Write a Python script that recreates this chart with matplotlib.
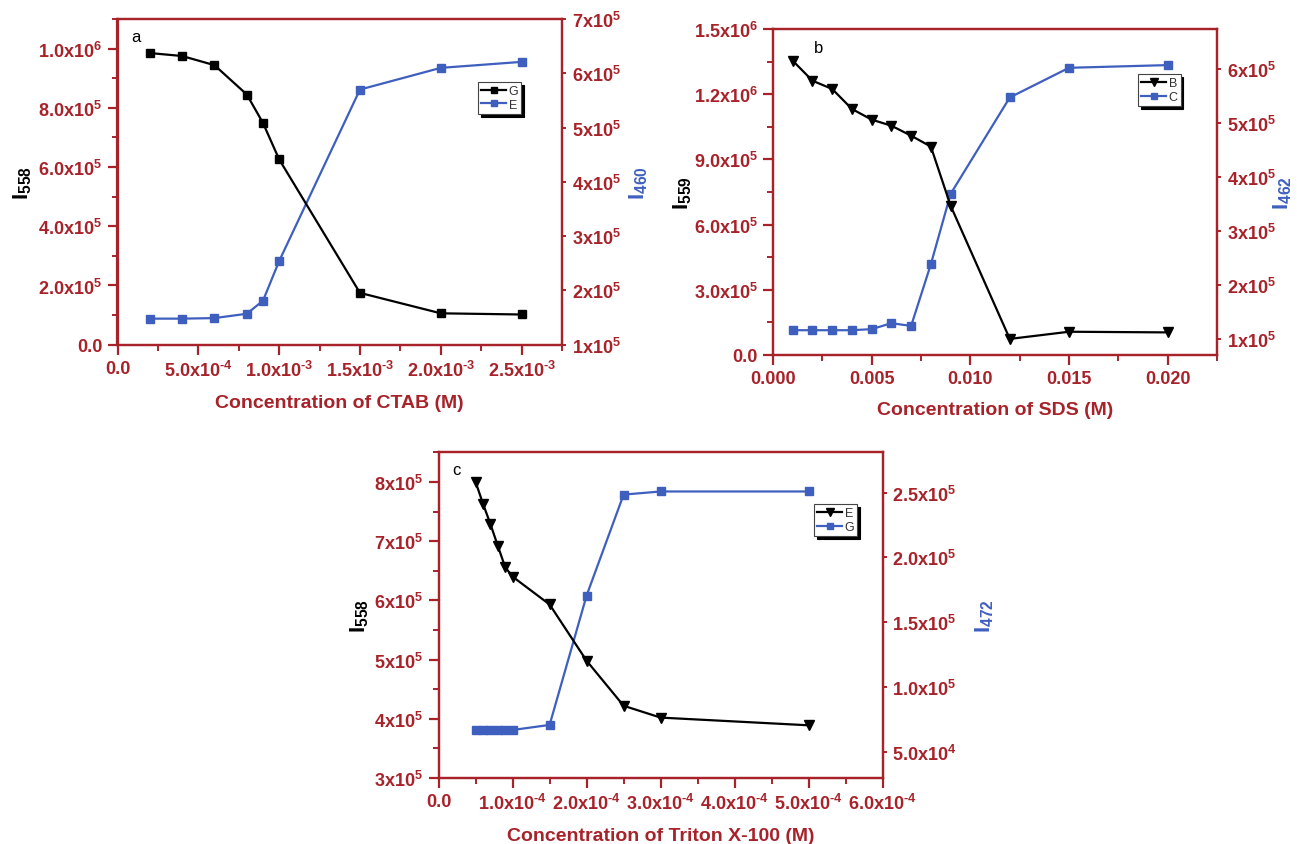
import matplotlib
matplotlib.use("Agg")
import matplotlib.pyplot as plt

plt.rcParams['font.family'] = ['Liberation Sans', 'DejaVu Sans']
plt.rcParams['mathtext.fontset'] = 'custom'
plt.rcParams['mathtext.rm'] = 'Liberation Sans:bold'
plt.rcParams['mathtext.bf'] = 'Liberation Sans:bold'
plt.rcParams['mathtext.default'] = 'bf'

# ---------------- data ----------------
# panel a (CTAB)
a_x = [2e-4, 4e-4, 6e-4, 8e-4, 9e-4, 1.0e-3, 1.5e-3, 2.0e-3, 2.5e-3]
a_G = [0.985e6, 0.975e6, 0.944e6, 0.845e6, 0.749e6, 0.626e6, 0.175e6, 0.106e6, 0.102e6]
a_E = [1.48e5, 1.48e5, 1.49e5, 1.57e5, 1.81e5, 2.54e5, 5.70e5, 6.10e5, 6.21e5]

# panel b (SDS)
b_x = [0.001, 0.002, 0.003, 0.004, 0.005, 0.006, 0.007, 0.008, 0.009, 0.012, 0.015, 0.020]
b_B = [1.354e6, 1.262e6, 1.224e6, 1.132e6, 1.083e6, 1.055e6, 1.009e6, 0.959e6, 0.687e6, 0.074e6, 0.107e6, 0.104e6]
b_C = [1.16e5, 1.16e5, 1.16e5, 1.16e5, 1.18e5, 1.29e5, 1.24e5, 2.385e5, 3.69e5, 5.48e5, 6.03e5, 6.08e5]

# panel c (Triton X-100)
c_x = [0.5e-4, 0.6e-4, 0.7e-4, 0.8e-4, 0.9e-4, 1.0e-4, 1.5e-4, 2.0e-4, 2.5e-4, 3.0e-4, 5.0e-4]
c_E = [8.00e5, 7.63e5, 7.29e5, 6.92e5, 6.56e5, 6.40e5, 5.93e5, 4.98e5, 4.22e5, 4.02e5, 3.89e5]
c_G = [6.7e4, 6.7e4, 6.7e4, 6.7e4, 6.7e4, 6.7e4, 7.09e4, 1.706e5, 2.484e5, 2.508e5, 2.508e5]

# tick labels
a_xt = [0, 5e-4, 1e-3, 1.5e-3, 2e-3, 2.5e-3]
a_xtl = ["0.0", r"5.0x10$^{\text{-}4}$", r"1.0x10$^{\text{-}3}$", r"1.5x10$^{\text{-}3}$",
         r"2.0x10$^{\text{-}3}$", r"2.5x10$^{\text{-}3}$"]
a_yt = [0, 2e5, 4e5, 6e5, 8e5, 1e6]
a_ytl = ["0.0", "2.0x10$^{5}$", "4.0x10$^{5}$", "6.0x10$^{5}$", "8.0x10$^{5}$", "1.0x10$^{6}$"]
a_rt = [1e5, 2e5, 3e5, 4e5, 5e5, 6e5, 7e5]
a_rtl = ["1x10$^{5}$", "2x10$^{5}$", "3x10$^{5}$", "4x10$^{5}$", "5x10$^{5}$", "6x10$^{5}$", "7x10$^{5}$"]

b_xt = [0, 0.005, 0.010, 0.015, 0.020]
b_xtl = ["0.000", "0.005", "0.010", "0.015", "0.020"]
b_yt = [0, 3e5, 6e5, 9e5, 1.2e6, 1.5e6]
b_ytl = ["0.0", "3.0x10$^{5}$", "6.0x10$^{5}$", "9.0x10$^{5}$", "1.2x10$^{6}$", "1.5x10$^{6}$"]
b_rt = [1e5, 2e5, 3e5, 4e5, 5e5, 6e5]
b_rtl = ["1x10$^{5}$", "2x10$^{5}$", "3x10$^{5}$", "4x10$^{5}$", "5x10$^{5}$", "6x10$^{5}$"]

c_xt = [0, 1e-4, 2e-4, 3e-4, 4e-4, 5e-4, 6e-4]
c_xtl = ["0.0", r"1.0x10$^{\text{-}4}$", r"2.0x10$^{\text{-}4}$", r"3.0x10$^{\text{-}4}$",
         r"4.0x10$^{\text{-}4}$", r"5.0x10$^{\text{-}4}$", r"6.0x10$^{\text{-}4}$"]
c_yt = [3e5, 4e5, 5e5, 6e5, 7e5, 8e5]
c_ytl = ["3x10$^{5}$", "4x10$^{5}$", "5x10$^{5}$", "6x10$^{5}$", "7x10$^{5}$", "8x10$^{5}$"]
c_rt = [5e4, 1e5, 1.5e5, 2e5, 2.5e5]
c_rtl = ["5.0x10$^{4}$", "1.0x10$^{5}$", "1.5x10$^{5}$", "2.0x10$^{5}$", "2.5x10$^{5}$"]

RED = '#A8222A'
BLUE = '#3F5FBF'
TFS = 13

W, H = 1297, 845
fig = plt.figure(figsize=(W / 100, H / 100), dpi=100)


def box(x0, y0, x1, y1):
    return [x0 / W, 1 - y1 / H, (x1 - x0) / W, (y1 - y0) / H]


def panel(rect, x, y1, y2, m1, lab1, lab2, xlim, ylim1, ylim2,
          xt, xtl, xminor, yt, ytl, yminor, rt, rtl,
          ylab1, ylab2, xlab, letter, leg_xy):
    ax = fig.add_axes(rect)
    ax2 = ax.twinx()
    ax.set_zorder(2)
    ax.patch.set_visible(False)
    l1, = ax.plot(x, y1, color='black', lw=1.6, marker=m1,
                  ms=7 if m1 == 'v' else 6, label=lab1, zorder=3)
    l2, = ax2.plot(x, y2, color=BLUE, lw=1.6, marker='s', ms=5.5, label=lab2)
    ax.set_xlim(*xlim)
    ax.set_ylim(*ylim1)
    ax2.set_ylim(*ylim2)
    ax.set_xticks(xt, xtl)
    ax.set_xticks(xminor, minor=True)
    ax.set_yticks(yt, ytl)
    ax.set_yticks(yminor, minor=True)
    ax2.set_yticks(rt, rtl)
    for a in (ax, ax2):
        for s in a.spines.values():
            s.set_color(RED)
            s.set_linewidth(1.6)
    ax.tick_params(axis='both', which='major', direction='out', length=7, width=1.6,
                   colors=RED, labelsize=TFS, pad=4)
    ax.tick_params(axis='both', which='minor', direction='out', length=4, width=1.4,
                   colors=RED)
    ax2.tick_params(axis='y', which='major', direction='out', length=3, width=1.4,
                    colors=RED, labelsize=TFS, pad=4)
    for t in ax.get_xticklabels() + ax.get_yticklabels() + ax2.get_yticklabels():
        t.set_fontweight('bold')
    ax.set_xlabel(xlab, color=RED, fontsize=14, fontweight='bold', labelpad=10)
    ax.set_ylabel(ylab1, color='black', fontsize=16, fontweight='bold', labelpad=6)
    ax2.set_ylabel(ylab2, color=BLUE, fontsize=16, fontweight='bold', labelpad=6)
    ax.text(letter[0], letter[1], letter[2], transform=ax.transAxes,
            fontsize=12, color='black', va='top', ha='left')
    leg = ax.legend([l1, l2], [lab1, lab2], loc='upper left', bbox_to_anchor=leg_xy,
                    fontsize=9, frameon=True, fancybox=False, numpoints=1,
                    handlelength=2.0, handletextpad=0.2, borderpad=0.25,
                    labelspacing=0.15, borderaxespad=0.0, markerscale=0.75,
                    shadow={'color': 'black', 'alpha': 1})
    leg.get_frame().set_edgecolor('#444444')
    leg.get_frame().set_linewidth(0.8)
    for t in leg.get_texts():
        t.set_color('#333333')
    return ax, ax2


# panel a
ax_a, ax2_a = panel(box(117.5, 20, 562, 345.7), a_x, a_G, a_E, 's', 'G', 'E',
                    (0, 2.75e-3), (0, 1.1e6), (1e5, 7e5),
                    a_xt, a_xtl, [2.5e-4 * i for i in range(12)],
                    a_yt, a_ytl, [1e5 * i for i in range(12)],
                    a_rt, a_rtl, 'I$_{558}$', 'I$_{460}$',
                    'Concentration of CTAB (M)', (0.03, 0.97, 'a'), (0.811, 0.807))
ax_a.yaxis.set_label_coords(-0.188, 0.5)
ax2_a.yaxis.set_label_coords(1.148, 0.5)

# panel b
ax_b, ax2_b = panel(box(773, 30, 1217, 356), b_x, b_B, b_C, 'v', 'B', 'C',
                    (0, 0.0225), (0, 1.5e6), (0.7e5, 6.75e5),
                    b_xt, b_xtl, [0.0025 * i for i in range(10)],
                    b_yt, b_ytl, [1.5e5 * i for i in range(11)],
                    b_rt, b_rtl, 'I$_{559}$', 'I$_{462}$',
                    'Concentration of SDS (M)', (0.092, 0.965, 'b'), (0.822, 0.862))
ax_b.yaxis.set_label_coords(-0.178, 0.5)
ax2_b.yaxis.set_label_coords(1.122, 0.5)

# panel c
ax_c, ax2_c = panel(box(438.6, 453.3, 882.6, 779), c_x, c_E, c_G, 'v', 'E', 'G',
                    (0, 6e-4), (3e5, 8.5e5), (3.0e4, 2.81e5),
                    c_xt, c_xtl, [0.5e-4 * i for i in range(13)],
                    c_yt, c_ytl, [3e5 + 0.5e5 * i for i in range(12)],
                    c_rt, c_rtl, 'I$_{558}$', 'I$_{472}$',
                    'Concentration of Triton X-100 (M)', (0.03, 0.97, 'c'), (0.8455, 0.841))
ax_c.yaxis.set_label_coords(-0.153, 0.5)
ax2_c.yaxis.set_label_coords(1.205, 0.5)

fig.savefig('out.png', dpi=100)
